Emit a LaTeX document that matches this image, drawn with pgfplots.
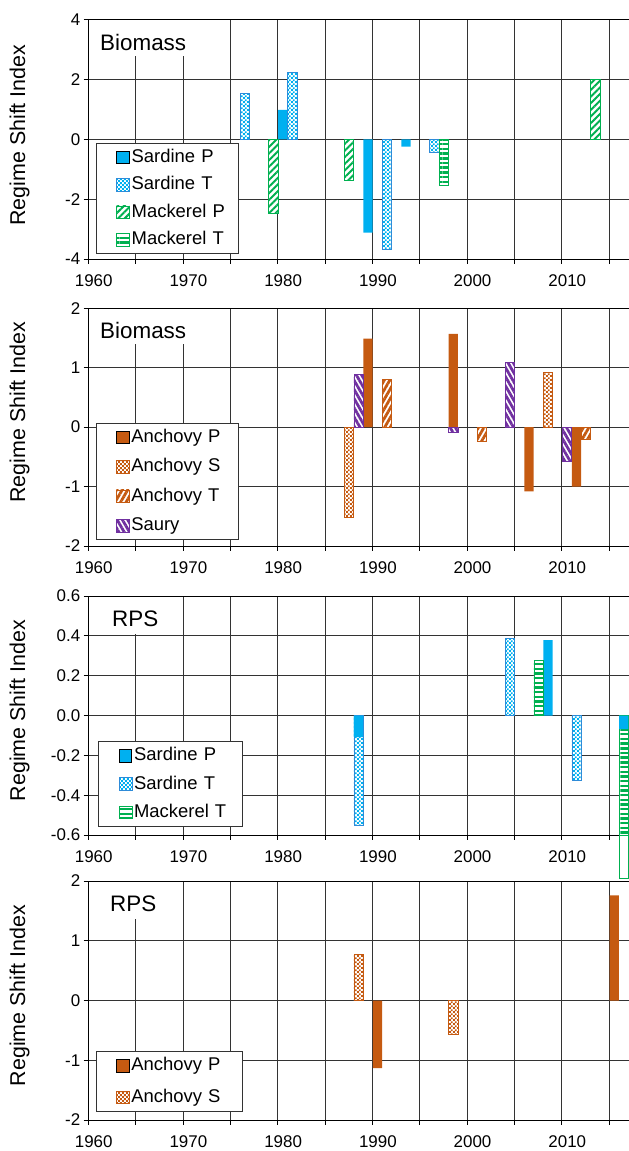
\documentclass[border=0pt]{standalone}
\usepackage{fontspec}
\setmainfont{Liberation Sans}
\usepackage{pgfplots}
\pgfplotsset{compat=1.18}
\usetikzlibrary{patterns,patterns.meta}

\definecolor{cSB}{HTML}{00B0F0}
\definecolor{cSBd}{HTML}{2E8BD8}
\definecolor{cG}{HTML}{00B050}
\definecolor{cO}{HTML}{C55A11}
\definecolor{cP}{HTML}{7030A0}

\pgfdeclarepattern{
  name=finechecker, type=uncolored,
  bottom left={\pgfpoint{0bp}{0bp}}, top right={\pgfpoint{3.8bp}{3.8bp}},
  tile size={\pgfpoint{3.8bp}{3.8bp}},
  code={
    \pgfpathrectangle{\pgfpoint{0bp}{0bp}}{\pgfpoint{1.9bp}{1.9bp}}
    \pgfpathrectangle{\pgfpoint{1.9bp}{1.9bp}}{\pgfpoint{1.9bp}{1.9bp}}
    \pgfusepath{fill}
  }
}

\tikzset{lbl/.style={fill=white, anchor=north west, inner xsep=8bp, inner ysep=0pt, font=\fontsize{22.5}{24}\selectfont}}

\pgfplotsset{
  panel/.style={
    scale only axis, width=540.8bp, xmin=1960, xmax=2017.1,
    xtick={1960,1965,...,2015},
    xticklabels={1960,,1970,,1980,,1990,,2000,,2010,},
    grid=major, grid style={black!80, line width=0.8bp},
    axis line style={black, line width=0.9bp},
    tick pos=left, tick align=outside, major tick length=4.5bp,
    tick style={black, line width=0.8bp},
    ticklabel style={font=\fontsize{17}{20}\selectfont},
    xticklabel style={xshift=5.5bp, yshift=-8bp},
    legend cell align=left,
    legend image code/.code={\path (0bp,0bp) (21bp,0bp); \draw[##1] (6.3bp,-6.3bp) rectangle (19bp,6.3bp);},
    legend style={draw=black!80, line width=0.8bp, fill=white,
      font=\fontsize{18.5}{20}\selectfont, anchor=south west,
      at={(axis description cs:0,0)},
      inner xsep=13.7bp, inner ysep=5bp},
    ylabel={Regime Shift Index},
    every axis y label/.style={rotate=90, anchor=center, font=\fontsize{21.5}{24}\selectfont},
  },
  bars/.style={ybar, bar width=0.98, bar shift=0pt},
  sP/.style={bars, fill=cSB, draw=none},
  sT/.style={bars, draw=cSBd, line width=0.6bp, preaction={fill=white}, pattern=finechecker, pattern color=cSB},
  mP/.style={bars, draw=cG, line width=0.6bp, preaction={fill=white}, pattern={Lines[angle=45,distance=4.7pt,line width=2pt]}, pattern color=cG},
  mT/.style={bars, draw=cG, line width=0.6bp, preaction={fill=white}, pattern={Lines[angle=0,distance=4.7pt,line width=2.4pt]}, pattern color=cG},
  aP/.style={bars, fill=cO, draw=none},
  aS/.style={bars, draw=cO, line width=0.6bp, preaction={fill=white}, pattern=finechecker, pattern color=cO},
  aT/.style={bars, draw=cO, line width=0.6bp, preaction={fill=white}, pattern={Lines[angle=60,distance=4.8pt,line width=2.8pt]}, pattern color=cO},
  sau/.style={bars, draw=cP, line width=0.6bp, preaction={fill=white}, pattern={Lines[angle=-60,distance=4.6pt,line width=2.8pt]}, pattern color=cP},
}

\begin{document}
\begin{tikzpicture}

% ---------------- Panel 1 ----------------
\begin{axis}[panel, at={(88.2bp,-259bp)}, anchor=south west, height=239.5bp,
  ymin=-4, ymax=4, ytick={-4,-2,0,2,4}, yticklabels={-4,-2,0,2,4},
  ylabel style={at={(axis description cs:-0.127,0.517)}},
  legend style={xshift=7.8bp, yshift=5bp, row sep=9.4bp,
    nodes={inner sep=0pt, text height=14bp, text depth=4bp, text width=93.3bp}}]
\addplot[sP] coordinates {(1980.55,0.98) (1989.55,-3.12) (1993.55,-0.25)};
\addlegendentry{Sardine P}
\addplot[sT] coordinates {(1976.55,1.52) (1981.55,2.22) (1991.55,-3.68) (1996.55,-0.45)};
\addlegendentry{Sardine T}
\addplot[mP] coordinates {(1979.55,-2.47) (1987.55,-1.38) (2013.55,2.0)};
\addlegendentry{Mackerel P}
\addplot[mT] coordinates {(1997.55,-1.53)};
\addlegendentry{Mackerel T}
\node[lbl, text height=30.5bp, text depth=5bp, xshift=3.8bp, yshift=-0.5bp] at (axis description cs:0,1) {Biomass};
\end{axis}

% ---------------- Panel 2 ----------------
\begin{axis}[panel, at={(88.2bp,-546bp)}, anchor=south west, height=237.7bp,
  ymin=-2, ymax=2, ytick={-2,-1,0,1,2}, yticklabels={-2,-1,0,1,2},
  ylabel style={at={(axis description cs:-0.127,0.563)}},
  legend style={xshift=7.4bp, yshift=6bp, row sep=11.4bp,
    nodes={inner sep=0pt, text height=14bp, text depth=4bp, text width=93.8bp}}]
\addplot[aP] coordinates {(1989.55,1.49) (1998.55,1.57) (2006.55,-1.08) (2011.55,-1.0)};
\addlegendentry{Anchovy P}
\addplot[aS] coordinates {(1987.55,-1.52) (2008.55,0.92)};
\addlegendentry{Anchovy S}
\addplot[aT] coordinates {(1991.55,0.81) (2001.55,-0.24) (2012.55,-0.2)};
\addlegendentry{Anchovy T}
\addplot[sau] coordinates {(1988.55,0.89) (1998.55,-0.085) (2004.55,1.09) (2010.55,-0.57)};
\addlegendentry{Saury}
\node[lbl, text height=29.7bp, text depth=5bp, xshift=3.8bp, yshift=-0.5bp] at (axis description cs:0,1) {Biomass};
\end{axis}

% ---------------- Panel 3 ----------------
\begin{axis}[panel, at={(88.2bp,-835bp)}, anchor=south west, height=239bp, clip=false,
  ymin=-0.6, ymax=0.6, ytick={-0.6,-0.4,-0.2,0,0.2,0.4,0.6},
  yticklabels={-0.6,-0.4,-0.2,0.0,0.2,0.4,0.6},
  ylabel style={at={(axis description cs:-0.127,0.52)}},
  legend style={xshift=10.2bp, yshift=8.3bp, row sep=10.3bp,
    nodes={inner sep=0pt, text height=14bp, text depth=4bp, text width=94.2bp}}]
\addplot[sP] coordinates {(1988.55,-0.109) (2008.55,0.379) (2016.55,-0.068)};
\addlegendentry{Sardine P}
\addplot[sT] coordinates {(1988.55,-0.553) (2004.55,0.389) (2011.55,-0.323)};
\addlegendentry{Sardine T}
\addplot[mT] coordinates {(2007.55,0.275) (2016.55,-0.6)};
\addlegendentry{Mackerel T}
\addplot[sP, forget plot] coordinates {(1988.55,-0.109) (2016.55,-0.068)};
\addplot[cG, line width=0.8bp, forget plot] coordinates {(2016.06,-0.6) (2016.06,-0.816) (2017.04,-0.816) (2017.04,-0.6)};
\node[lbl, text height=30bp, text depth=7bp, xshift=15.8bp, yshift=-0.5bp] at (axis description cs:0,1) {RPS};
\end{axis}

% ---------------- Panel 4 ----------------
\begin{axis}[panel, at={(88.2bp,-1120bp)}, anchor=south west, height=239bp,
  ymin=-2, ymax=2, ytick={-2,-1,0,1,2}, yticklabels={-2,-1,0,1,2},
  ylabel style={at={(axis description cs:-0.127,0.52)}},
  legend style={xshift=7.4bp, yshift=8.3bp, row sep=13.7bp,
    nodes={inner sep=0pt, text height=14bp, text depth=4bp, text width=97bp}}]
\addplot[aP] coordinates {(1990.55,-1.13) (2015.55,1.76)};
\addlegendentry{Anchovy P}
\addplot[aS] coordinates {(1988.55,0.77) (1998.55,-0.57)};
\addlegendentry{Anchovy S}
\node[lbl, text height=30bp, text depth=7bp, xshift=13.8bp, yshift=-0.5bp] at (axis description cs:0,1) {RPS};
\end{axis}

\pgfresetboundingbox
\path[use as bounding box] (0bp,0bp) rectangle (629bp,-1151bp);
\end{tikzpicture}
\end{document}
